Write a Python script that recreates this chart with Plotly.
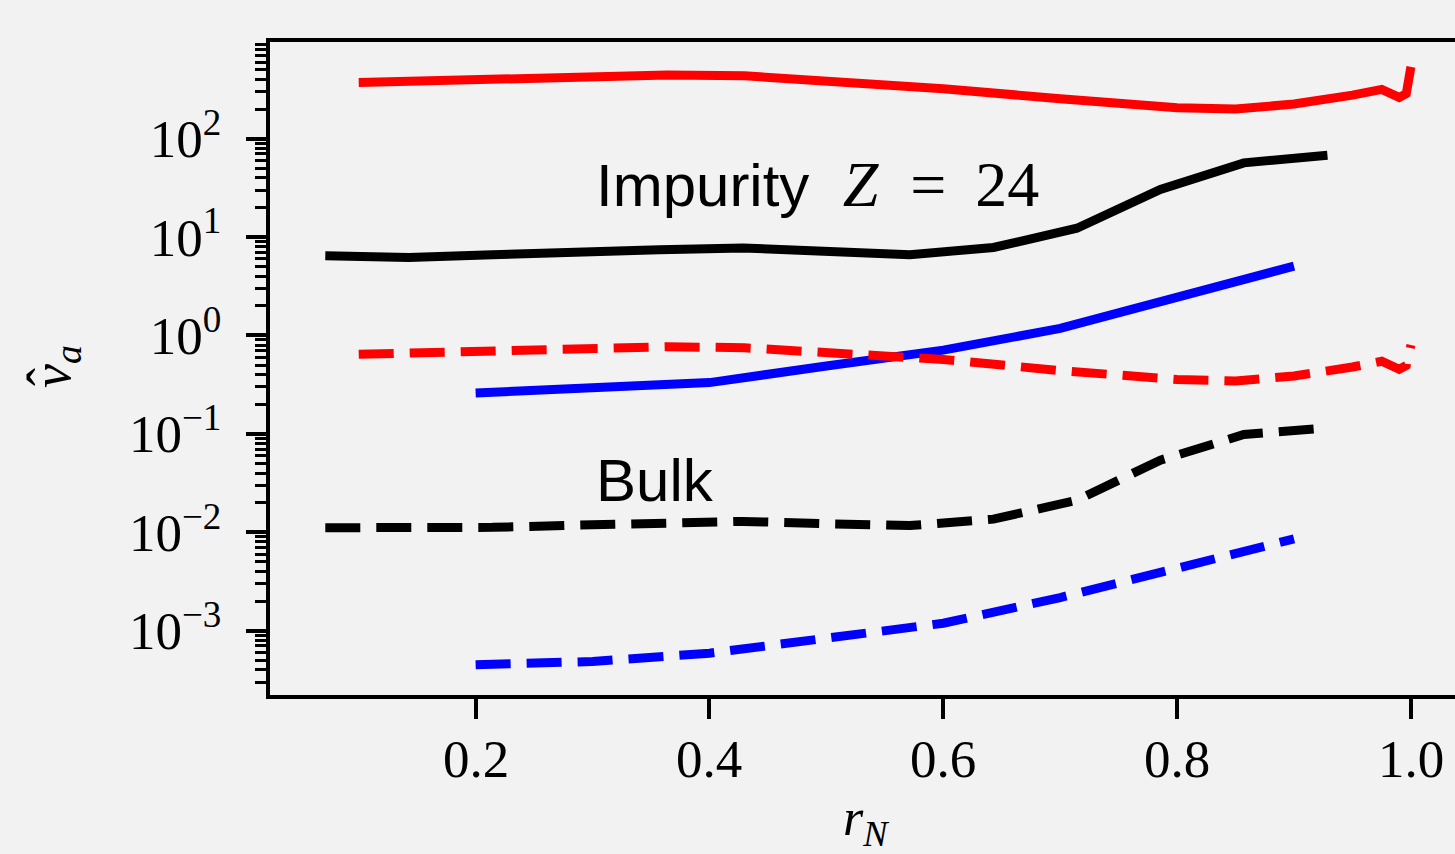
import plotly.graph_objects as go

# ---- data ----
r_black = [0.0714, 0.1429, 0.2143, 0.2857, 0.3571, 0.4286, 0.5, 0.5714, 0.6429, 0.7143, 0.7857, 0.8571, 0.9286]
nu_black_imp = [6.47, 6.22, 6.62, 6.85, 7.45, 7.75, 7.2, 6.62, 7.85, 12.3, 30.5, 56.8, 67.8]
nu_black_bulk = [0.01112, 0.01096, 0.01122, 0.0118, 0.0125, 0.0129, 0.0122, 0.0117, 0.0136, 0.0212, 0.0541, 0.0984, 0.115]

r_blue = [0.2, 0.3, 0.4, 0.5, 0.6, 0.7, 0.8, 0.9]
nu_blue_imp = [0.26, 0.287, 0.332, 0.49, 0.71, 1.18, 2.44, 5.07]
nu_blue_bulk = [0.00045, 0.000486, 0.00059, 0.00082, 0.00119, 0.00217, 0.00442, 0.00857]

r_red = [0.1, 0.2, 0.3, 0.364, 0.43, 0.5, 0.6, 0.7, 0.8, 0.85, 0.9, 0.95, 0.975, 0.99, 0.996, 1.0]
nu_red_imp = [373, 397, 421, 443, 436, 393, 322, 255, 207, 200, 225, 277, 317, 263, 287, 537]
nu_red_bulk = [0.643, 0.678, 0.719, 0.77, 0.75, 0.68, 0.57, 0.44, 0.357, 0.345, 0.388, 0.478, 0.547, 0.454, 0.495, 0.80]

x_ticks = [0.2, 0.4, 0.6, 0.8, 1.0]
x_ticklabels = ["0.2", "0.4", "0.6", "0.8", "1.0"]
y_ticks = [1e-3, 1e-2, 1e-1, 1e0, 1e1, 1e2]
y_ticklabels = ["10<sup>\u22123</sup>", "10<sup>\u22122</sup>", "10<sup>\u22121</sup>",
                "10<sup>0</sup>", "10<sup>1</sup>", "10<sup>2</sup>"]
y_minor = [m * 10.0 ** e for e in range(-4, 3) for m in range(2, 10)]

LW = 9
DASH = "35px,16px"
SERIF = "Liberation Serif"
SANS = "Liberation Sans"

L, R, T, B = 270, 0, 42, 159
W, H = 1455, 854
PW, PH = W - L - R, H - T - B


def px_to_paper(px, py):
    return (px - L) / PW, (H - B - py) / PH


fig = go.Figure()
series = [
    (r_red, nu_red_imp, "red", "solid"),
    (r_black, nu_black_imp, "black", "solid"),
    (r_blue, nu_blue_imp, "blue", "solid"),
    (r_red, nu_red_bulk, "red", DASH),
    (r_black, nu_black_bulk, "black", DASH),
    (r_blue, nu_blue_bulk, "blue", DASH),
]
for xs, ys, col, dash in series:
    fig.add_trace(go.Scatter(x=xs, y=ys, mode="lines",
                             line=dict(color=col, width=LW, dash=dash),
                             hoverinfo="skip"))

fig.update_layout(
    width=W, height=H,
    margin=dict(l=L, r=R, t=T, b=B),
    paper_bgcolor="#f2f2f2", plot_bgcolor="#f2f2f2",
    showlegend=False,
)
fig.update_xaxes(
    range=[0.0241, 1.0377], showgrid=False, zeroline=False,
    showline=True, linecolor="black", linewidth=4, mirror=True,
    ticks="outside", ticklen=20, tickwidth=4, tickcolor="black",
    tickmode="array", tickvals=x_ticks, ticktext=x_ticklabels,
    showticklabels=False,
)
fig.update_yaxes(
    type="log", range=[-3.654, 2.983], showgrid=False, zeroline=False,
    showline=True, linecolor="black", linewidth=4, mirror=False,
    ticks="outside", ticklen=20, tickwidth=4, tickcolor="black",
    tickmode="array", tickvals=y_ticks, ticktext=y_ticklabels,
    tickfont=dict(family=SERIF, size=53, color="black"),
    ticklabelstandoff=14,
    minor=dict(ticks="outside", ticklen=11, tickwidth=3, tickcolor="black",
               tickmode="array", tickvals=y_minor, showgrid=False),
)

# x tick labels placed just under the ticks
_, ytl = px_to_paper(0, 759)
for tv, tt in zip(x_ticks, x_ticklabels):
    fig.add_annotation(
        text=tt, x=tv, y=ytl, xref="x", yref="paper",
        xanchor="center", yanchor="middle", showarrow=False,
        font=dict(family=SERIF, size=53, color="black"),
    )

fig.add_annotation(
    text="Impurity&nbsp; <span style='font-family:Liberation Serif;font-size:64px'>"
         "<i>Z</i>&nbsp;&nbsp;=&nbsp;&#8201;24</span>",
    x=0.3016, y=1.535, xref="x", yref="y", xanchor="left", yanchor="middle",
    showarrow=False, font=dict(family=SANS, size=60, color="black"),
)
fig.add_annotation(
    text="Bulk",
    x=0.3016, y=-1.47, xref="x", yref="y", xanchor="left", yanchor="middle",
    showarrow=False, font=dict(family=SANS, size=60, color="black"),
)
xr, yr = px_to_paper(866, 821)
fig.add_annotation(
    text="<i>r</i><sub><i>N</i></sub>",
    x=xr, y=yr, xref="paper", yref="paper", xanchor="center", yanchor="middle",
    showarrow=False, font=dict(family=SERIF, size=52, color="black"),
)
xl, yl = px_to_paper(55, 367)
fig.add_annotation(
    text="<i>\u03bd</i><sub><i>a</i></sub>",
    x=xl, y=yl, xref="paper", yref="paper", xanchor="center", yanchor="middle",
    textangle=-90,
    showarrow=False, font=dict(family=SERIF, size=54, color="black"),
)
xh, yh = px_to_paper(47, 377)
fig.add_annotation(
    text="\u02c6",
    x=xh, y=yh, xref="paper", yref="paper", xanchor="center", yanchor="middle",
    textangle=-90,
    showarrow=False, font=dict(family=SERIF, size=54, color="black"),
)
fig.write_html("out.html")
